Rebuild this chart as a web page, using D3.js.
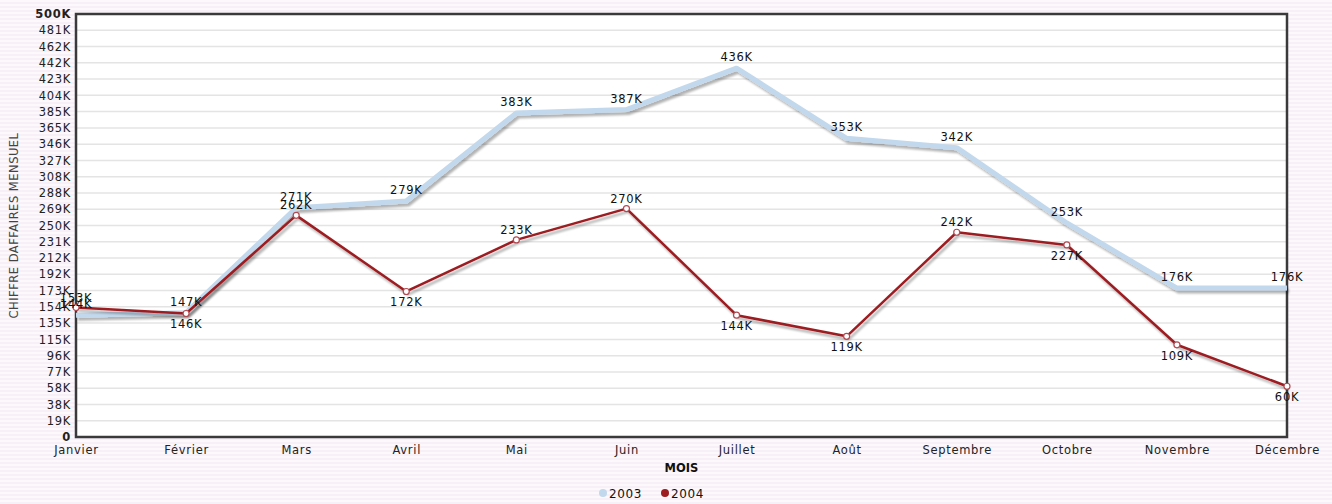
<!DOCTYPE html>
<html>
<head>
<meta charset="utf-8">
<script src="https://cdn.jsdelivr.net/npm/d3@7"></script>
<style>
  html, body { margin: 0; padding: 0; background: #fbf6fb; }
  svg { display: block; }
  text { font-family: "DejaVu Sans", Verdana, sans-serif; }
</style>
</head>
<body>
<svg id="chart" width="1332" height="504"></svg>
<script>
// Monthly revenue, in thousands
const months = ["Janvier", "Février", "Mars", "Avril", "Mai", "Juin", "Juillet", "Août", "Septembre", "Octobre", "Novembre", "Décembre"];
const years = ["2003", "2004"];
const values2003 = [144, 147, 271, 279, 383, 387, 436, 353, 342, 253, 176, 176];
const values2004 = [153, 146, 262, 172, 233, 270, 144, 119, 242, 227, 109, 60];
const yMax = 500;
const tickCount = 26;
const yTickValues = d3.range(tickCount + 1).map(i => yMax * i / tickCount);

const W = 1332, H = 504;
const margin = { top: 14, right: 45, bottom: 67, left: 76 };
const iw = W - margin.left - margin.right;
const ih = H - margin.top - margin.bottom;
const fs = 11.5, ls = 0.7;

const svg = d3.select("#chart");

// striped page background
const defs = svg.append("defs");
const pat = defs.append("pattern").attr("id", "stripes")
  .attr("width", 4).attr("height", 4).attr("patternUnits", "userSpaceOnUse");
pat.append("rect").attr("width", 4).attr("height", 4).attr("fill", "#fcf8fc");
pat.append("rect").attr("y", 2).attr("width", 4).attr("height", 2).attr("fill", "#f7f0f7");
svg.append("rect").attr("width", W).attr("height", H).attr("fill", "url(#stripes)");

const shadow = defs.append("filter").attr("id", "shadow")
  .attr("x", "-5%").attr("y", "-20%").attr("width", "110%").attr("height", "140%");
shadow.append("feGaussianBlur").attr("in", "SourceAlpha").attr("stdDeviation", 1).attr("result", "b");
shadow.append("feOffset").attr("in", "b").attr("dx", 2).attr("dy", 3).attr("result", "o");
shadow.append("feComponentTransfer").attr("in", "o").attr("result", "s")
  .append("feFuncA").attr("type", "linear").attr("slope", 0.3);
const fm = shadow.append("feMerge");
fm.append("feMergeNode").attr("in", "s");
fm.append("feMergeNode").attr("in", "SourceGraphic");

const g = svg.append("g").attr("transform", `translate(${margin.left},${margin.top})`);

const x = d3.scalePoint().domain(months).range([0, iw]);
const y = d3.scaleLinear().domain([0, yMax]).range([ih, 0]);

// plot area
g.append("rect").attr("width", iw).attr("height", ih).attr("fill", "#ffffff");

// horizontal grid
g.append("g")
  .selectAll("line").data(yTickValues.slice(1, -1)).join("line")
  .attr("x1", 0).attr("x2", iw)
  .attr("y1", d => y(d)).attr("y2", d => y(d))
  .attr("stroke", "#e4e4e4").attr("stroke-width", 1.5);

// y axis labels
const yAxis = g.append("g").call(
  d3.axisLeft(y).tickValues(yTickValues).tickSize(0).tickPadding(5)
    .tickFormat(d => d === 0 ? "0" : Math.round(d) + "K")
);
yAxis.select(".domain").remove();
yAxis.selectAll("text")
  .attr("font-size", fs).attr("letter-spacing", ls).attr("fill", "#222")
  .attr("font-weight", d => (d === 0 || d === yMax) ? "bold" : "normal");

// x axis labels
const xAxis = g.append("g").attr("transform", `translate(0,${ih})`).call(
  d3.axisBottom(x).tickSize(0).tickPadding(9)
);
xAxis.select(".domain").remove();
xAxis.selectAll("text").attr("font-size", fs).attr("letter-spacing", ls).attr("fill", "#222");

// frame
g.append("rect").attr("width", iw).attr("height", ih)
  .attr("fill", "none").attr("stroke", "#3a3a3a").attr("stroke-width", 2.5);

// series lines
const line = d3.line().x((d, i) => x(months[i])).y(d => y(d));

g.append("path").datum(values2003)
  .attr("d", line).attr("fill", "none")
  .attr("stroke", "#c2d8ec").attr("stroke-width", 5)
  .attr("stroke-linejoin", "round")
  .attr("filter", "url(#shadow)");

g.append("path").datum(values2004)
  .attr("d", line).attr("fill", "none")
  .attr("stroke", "#9c1c20").attr("stroke-width", 2.5)
  .attr("stroke-linejoin", "round")
  .attr("filter", "url(#shadow)");

g.append("g").selectAll("circle").data(values2004).join("circle")
  .attr("cx", (d, i) => x(months[i])).attr("cy", d => y(d))
  .attr("r", 3).attr("fill", "#ffffff")
  .attr("stroke", "#b04a52").attr("stroke-width", 1.2);

// value labels
g.append("g").selectAll("text").data(values2003).join("text")
  .attr("x", (d, i) => x(months[i])).attr("y", d => y(d) - 7)
  .attr("text-anchor", "middle").attr("font-size", fs).attr("letter-spacing", ls).attr("fill", "#111")
  .text(d => d + "K");

g.append("g").selectAll("text").data(values2004).join("text")
  .attr("x", (d, i) => x(months[i]))
  .attr("y", (d, i) => (i > 0 && d < values2004[i - 1]) ? y(d) + 15 : y(d) - 6)
  .attr("text-anchor", "middle").attr("font-size", fs).attr("letter-spacing", ls).attr("fill", "#111")
  .text(d => d + "K");

// axis titles
svg.append("text")
  .attr("x", margin.left + iw / 2).attr("y", 472)
  .attr("text-anchor", "middle").attr("font-size", fs).attr("font-weight", "bold")
  .attr("fill", "#111").text("MOIS");

svg.append("text")
  .attr("transform", `translate(18,${margin.top + ih / 2}) rotate(-90)`)
  .attr("text-anchor", "middle").attr("font-size", 11.5).attr("letter-spacing", 0.5)
  .attr("fill", "#444").text("CHIFFRE DAFFAIRES MENSUEL");

// legend
const legendColors = ["#c2d8ec", "#9c1c20"];
const legend = svg.append("g").attr("transform", "translate(603,494)");
const items = legend.selectAll("g").data(years).join("g")
  .attr("transform", (d, i) => `translate(${i * 62},0)`);
items.append("circle").attr("r", 4).attr("cy", -1)
  .attr("fill", (d, i) => legendColors[i]);
items.append("text").attr("x", 6).attr("y", 4)
  .attr("font-size", 12).attr("letter-spacing", 0.6).attr("fill", "#111").text(d => d);
</script>
</body>
</html>
